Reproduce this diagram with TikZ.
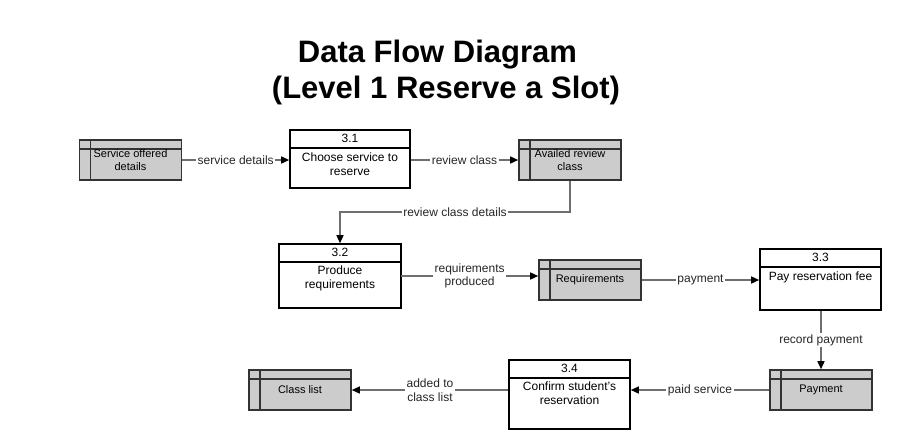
\documentclass[tikz,border=0pt]{standalone}
\usepackage{fontspec}
\setmainfont{Liberation Sans}
\usetikzlibrary{arrows.meta}
\definecolor{storefill}{HTML}{CCCCCC}
\definecolor{storeline}{HTML}{333333}
\definecolor{flowline}{HTML}{6E6E6E}
\begin{document}
\begin{tikzpicture}[x=1pt,y=-1pt,
  store/.style={draw=storeline, fill=storefill, line width=1.6pt, minimum width=102pt, minimum height=40pt, inner sep=0pt, align=center, font=\fontsize{11}{12.5}\selectfont,
    path picture={\draw[storeline,line width=1.6pt] ([xshift=11pt]path picture bounding box.north west) -- ([xshift=11pt]path picture bounding box.south west);
    \draw[storeline,line width=1.6pt] ([yshift=-9pt]path picture bounding box.north west) -- ([yshift=-9pt]path picture bounding box.north east);}},
  proc/.style={draw=black, fill=white, line width=1.6pt, inner sep=0pt,
    path picture={\draw[black,line width=1.6pt] ([yshift=-18pt]path picture bounding box.north west) -- ([yshift=-18pt]path picture bounding box.north east);}},
  pnum/.style={font=\fontsize{12}{14}\selectfont, inner sep=0pt},
  ptext/.style={font=\fontsize{12}{14}\selectfont, align=center, inner sep=0pt, anchor=north},
  flow/.style={draw=flowline, line width=1.4pt, -{Triangle[length=8pt,width=7pt,color=black]}},
  plain/.style={draw=flowline, line width=1.4pt},
  lbl/.style={fill=white, inner sep=1.5pt, font=\fontsize{12}{13.5}\selectfont, align=center, text=black!85},
  ttl/.style={anchor=base, font=\bfseries\fontsize{31}{36}\selectfont}
]
\useasboundingbox (0,0) rectangle (902,440);

% title
\node[ttl] (t1) at (437.5,62) {Data Flow Diagram};
\node[ttl] (t2) at (446,98) {(Level 1 Reserve a Slot)};

% data stores
\node[store] (s1) at (130.5,160) {Service offered\\details};
\node[store] (s2) at (570,160) {Availed review\\class};
\node[store] (req) at (590,280) {Requirements};
\node[store] (pay) at (821,390) {Payment};
\node[store] (cl) at (300,390) {Class list};

% processes
\node[proc, minimum width=120pt, minimum height=58pt] (p31) at (350,159) {};
\node[pnum] (p31n) at ([yshift=-9.5pt]p31.north) {3.1};
\node[ptext] (p31t) at ([yshift=-23pt]p31.north) {Choose service to\\reserve};

\node[proc, minimum width=122pt, minimum height=64pt] (p32) at (340,276) {};
\node[pnum] (p32n) at ([yshift=-9pt]p32.north) {3.2};
\node[ptext] (p32t) at ([yshift=-22pt]p32.north) {Produce\\requirements};

\node[proc, minimum width=121pt, minimum height=61pt] (p33) at (820.5,279.5) {};
\node[pnum] (p33n) at ([yshift=-9.5pt]p33.north) {3.3};
\node[ptext] (p33t) at ([yshift=-23pt]p33.north) {Pay reservation fee};

\node[proc, minimum width=121pt, minimum height=69pt] (p34) at (569.5,394.5) {};
\node[pnum] (p34n) at ([yshift=-9pt]p34.north) {3.4};
\node[ptext] (p34t) at ([yshift=-22pt]p34.north) {Confirm student's\\reservation};

% flows
\draw[flow] (s1.east) -- node[lbl]{service details} (s1.east -| p31.west);
\draw[flow] (p31.east |- s2.west) -- node[lbl]{review class} (s2.west);
\coordinate (c1) at (570,212);
\draw[flow] (s2.south) -- (c1) -| node[lbl, pos=0.25]{review class details} (p32.north);
\coordinate (c2) at (401,276);
\draw[flow] (c2) -- node[lbl]{requirements\\produced} (c2 -| req.west);
\draw[flow] (req.east) -- node[lbl]{payment} (req.east -| p33.west);
\draw[flow] (p33.south -| pay.north) -- node[lbl]{record payment} (pay.north);
\draw[flow] (pay.west) -- node[lbl]{paid service} (pay.west -| p34.east);
\draw[flow] (p34.west |- cl.east) -- node[lbl]{added to\\class list} (cl.east);
\end{tikzpicture}
\end{document}
